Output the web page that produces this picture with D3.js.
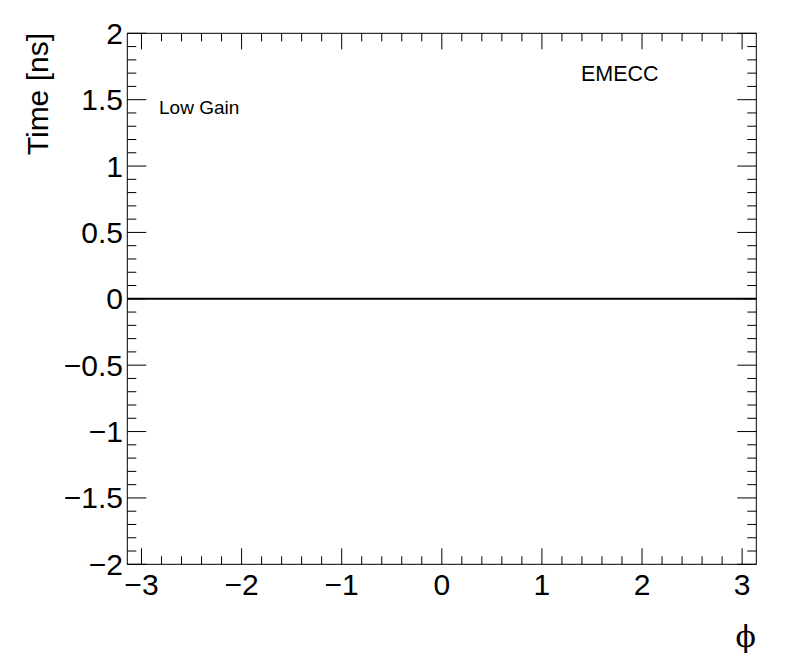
<!DOCTYPE html>
<html>
<head>
<meta charset="utf-8">
<script src="https://cdn.jsdelivr.net/npm/d3@7"></script>
<style>
  body { margin: 0; background: #fff; }
  svg text { font-family: "Liberation Sans", Arial, sans-serif; fill: #000; }
</style>
</head>
<body>
<div id="chart"></div>
<script>
// data
const phiValues = [-Math.PI, Math.PI];
const timeValues = [0, 0];
const xTicks = [-3, -2, -1, 0, 1, 2, 3];
const yTicks = [-2, -1.5, -1, -0.5, 0, 0.5, 1, 1.5, 2];
const gainLabel = 'Low Gain';
const partitionLabel = 'EMECC';

const width = 796, height = 672;
const frameL = 127.3, frameR = 756.3, frameT = 33.3, frameB = 564.3;

const svg = d3.select('#chart').append('svg')
    .attr('width', width)
    .attr('height', height);

const x = d3.scaleLinear().domain([-Math.PI, Math.PI]).range([frameL, frameR]);
const y = d3.scaleLinear().domain([-2, 2]).range([frameB, frameT]);

const fmt = d => (d < 0 ? '\u2212' + Math.abs(d) : String(d));

// minor ticks
const xMinor = d3.range(-3.2, 3.21, 0.2).filter(v => x(v) >= frameL - 0.1 && x(v) <= frameR + 0.1);
const yMinor = d3.range(-2, 2.001, 0.1);

const g = svg.append('g').attr('stroke', '#000').attr('stroke-width', 1).attr('fill', 'none');

// bottom + top ticks
xMinor.forEach(v => {
    const major = xTicks.some(t => Math.abs(t - v) < 1e-6);
    const len = major ? 16 : 8;
    g.append('line').attr('x1', x(v)).attr('x2', x(v)).attr('y1', frameB).attr('y2', frameB - len);
    g.append('line').attr('x1', x(v)).attr('x2', x(v)).attr('y1', frameT).attr('y2', frameT + len);
});

// left + right ticks
yMinor.forEach(v => {
    const major = yTicks.some(t => Math.abs(t - v) < 1e-6);
    const len = major ? 19 : 9;
    g.append('line').attr('y1', y(v)).attr('y2', y(v)).attr('x1', frameL).attr('x2', frameL + len);
    g.append('line').attr('y1', y(v)).attr('y2', y(v)).attr('x1', frameR).attr('x2', frameR - len);
});

// frame
g.append('rect')
    .attr('x', frameL).attr('y', frameT)
    .attr('width', frameR - frameL).attr('height', frameB - frameT);

// x labels
svg.selectAll('.xl').data(xTicks).enter().append('text')
    .attr('class', 'xl')
    .attr('x', d => x(d))
    .attr('y', 595)
    .attr('text-anchor', 'middle')
    .attr('font-size', 30)
    .text(fmt);

// y labels
svg.selectAll('.yl').data(yTicks).enter().append('text')
    .attr('class', 'yl')
    .attr('x', 123)
    .attr('y', d => y(d) + 10.5)
    .attr('text-anchor', 'end')
    .attr('font-size', 30)
    .text(fmt);

// axis titles
svg.append('text')
    .attr('transform', 'translate(48,33) rotate(-90)')
    .attr('text-anchor', 'end')
    .attr('font-size', 30)
    .text('Time [ns]');

svg.append('text')
    .attr('x', 756)
    .attr('y', 647)
    .attr('text-anchor', 'end')
    .attr('font-size', 30)
    .style('font-family', '"DejaVu Serif", "Liberation Serif", serif')
    .text('\u03D5');

// annotations
svg.append('text')
    .attr('x', 159).attr('y', 114)
    .attr('font-size', 19)
    .text(gainLabel);

svg.append('text')
    .attr('x', 581).attr('y', 81)
    .attr('font-size', 21.5)
    .text(partitionLabel);

// series
const line = d3.line().x((d, i) => x(phiValues[i])).y(d => y(d));
svg.append('path')
    .datum(timeValues)
    .attr('d', line)
    .attr('fill', 'none')
    .attr('stroke', '#000')
    .attr('stroke-width', 2);
</script>
</body>
</html>
